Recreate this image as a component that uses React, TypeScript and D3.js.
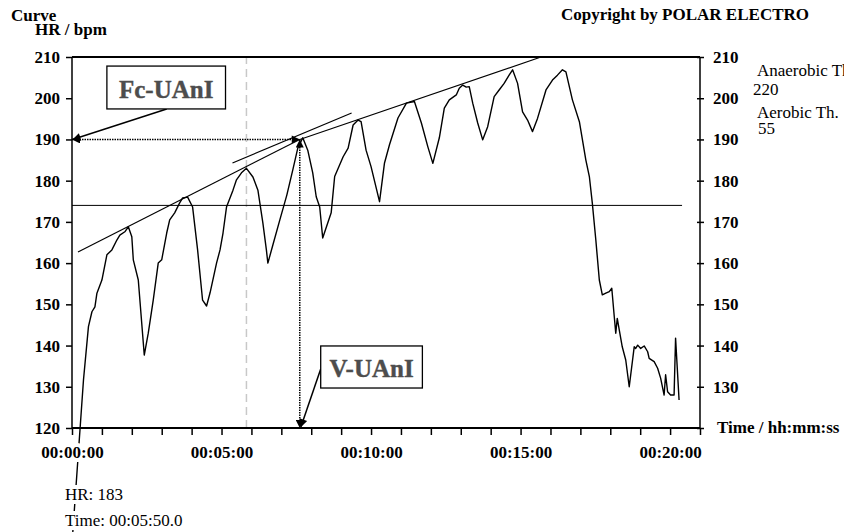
import React, { useEffect, useRef } from 'react';
import * as d3 from 'd3';

// elapsed time in seconds and heart rate in bpm
const seconds = [0, 23, 33, 40, 46, 50, 60, 70, 80, 90,
  96, 106, 113, 120, 123, 133, 145, 153, 163, 173,
  180, 190, 196, 206, 216, 222, 232, 242, 252, 262,
  270, 277, 290, 297, 303, 310, 323, 330, 340, 350,
  363, 373, 383, 390, 393, 403, 417, 431, 443, 453,
  463, 473, 483, 490, 497, 503, 520, 527, 544, 554,
  564, 574, 580, 590, 600, 617, 627, 637, 654, 671,
  687, 701, 714, 724, 737, 747, 757, 771, 777, 784,
  791, 797, 804, 814, 824, 834, 847, 857, 867, 877,
  884, 894, 904, 914, 924, 934, 951, 964, 974, 984,
  991, 1004, 1018, 1031, 1038, 1044, 1051, 1058, 1064, 1071,
  1078, 1083, 1088, 1091, 1094, 1098, 1104, 1111, 1118, 1128,
  1131, 1135, 1141, 1148, 1155, 1158, 1168, 1175, 1181, 1188,
  1191, 1195, 1201, 1208, 1211, 1218];
const heartRate = [92, 131.6, 144.6, 148.2, 149.4, 152.7, 155.9, 162, 163.2, 165.6,
  166.8, 167.6, 168.8, 166.4, 160.8, 155.9, 137.7, 143, 151, 160,
  160.8, 167.3, 170.5, 172.2, 174.6, 175.8, 176, 173.6, 163.2, 151,
  149.6, 152.8, 160, 163.2, 167.3, 173.6, 177.7, 180.2, 181.9, 183,
  180.9, 177.7, 169.7, 163.2, 160, 164.4, 170.5, 176.5, 182.6, 187.9,
  190.4, 187.4, 181.9, 176.1, 173.6, 166.1, 172.2, 181, 185.8, 187.9,
  193.5, 194.7, 194.3, 187.4, 183.4, 174.9, 184.3, 188.7, 195.2, 198.8,
  199.2, 194, 188.2, 184.2, 190.4, 197.6, 199.6, 200.8, 202.4, 203.2,
  202.7, 202.8, 198.8, 194, 189.9, 193.1, 200.4, 202, 203.6, 205.6,
  206.9, 203.6, 196.7, 194.7, 191.9, 195.1, 202, 204.4, 205.6, 206.9,
  206.4, 199.6, 194.3, 185, 181, 174.5, 165.6, 155.9, 152.3, 152.7,
  153.1, 153.9, 147, 143, 146.6, 143.8, 139.7, 136.5, 130, 139.7,
  139.3, 140.1, 139.3, 139.9, 138.5, 136.9, 136.1, 134.5, 132.1, 128,
  132.9, 128.8, 128, 128, 141.8, 126.8];

const yTicks = [120, 130, 140, 150, 160, 170, 180, 190, 200, 210];
const xMinorTicks = d3.range(0, 1261, 60);
const xLabelTicks = [0, 300, 600, 900, 1200];
const xTickLabels = ['00:00:00', '00:05:00', '00:10:00', '00:15:00', '00:20:00'];

const thresholdHr = 174;
const thresholdEnd = 1224;
const cursorTime = 350;
const cursorHr = 183;
const uaniTime = 457;
const uaniHr = 190;

// tangent lines drawn through the peaks
const tangents = [
  [[12, 162.7], [uaniTime, uaniHr]],
  [[uaniTime, uaniHr], [941, 210]],
  [[322, 184.3], [561, 196.4]],
];

const labelBoxes = [
  { text: 'Fc-UAnI', t0: 70, t1: 308, hrTop: 207.8, hrBottom: 197.4, hrText: 200,
    from: [190, 197.4], to: [1, 190] },
  { text: 'V-UAnI', t0: 499, t1: 703, hrTop: 139.9, hrBottom: 129.7, hrText: 132.4,
    from: [499, 134.3], to: [459, 120.2] },
];

const sideLabels = ['Anaerobic Th.', '220', 'Aerobic Th.', '55'];

const serif = '"Liberation Serif", "Times New Roman", serif';

const HeartRateChart = () => {
  const chart = useRef(null);
  const width = 844;
  const height = 532;
  const margin = { top: 57, right: 144, bottom: 104, left: 72 };

  const x = d3.scaleLinear()
    .domain([0, 1260])
    .range([margin.left, width - margin.right]);
  const y = d3.scaleLinear()
    .domain([120, 210])
    .range([height - margin.bottom, margin.top]);

  const draw = () => {
    const svg = d3.select(chart.current);
    svg.selectAll('*').remove();
    svg.attr('font-family', serif);

    const defs = svg.append('defs');
    defs.append('marker')
      .attr('id', 'tip')
      .attr('viewBox', '0 0 10 10')
      .attr('refX', 10)
      .attr('refY', 5)
      .attr('markerWidth', 11)
      .attr('markerHeight', 8)
      .attr('markerUnits', 'userSpaceOnUse')
      .attr('orient', 'auto-start-reverse')
      .append('path')
      .attr('d', 'M0,0L10,5L0,10Z')
      .attr('fill', '#000');

    const [x0, x1] = x.range();
    const [yb, yt] = y.range();

    // cursor
    svg.append('line')
      .attr('x1', x(cursorTime)).attr('x2', x(cursorTime))
      .attr('y1', y(120)).attr('y2', y(210))
      .attr('stroke', '#c8c8c8')
      .attr('stroke-width', 1.5)
      .attr('stroke-dasharray', '8,5');

    // threshold
    svg.append('line')
      .attr('x1', x(0)).attr('x2', x(thresholdEnd))
      .attr('y1', y(thresholdHr)).attr('y2', y(thresholdHr))
      .attr('stroke', '#000')
      .attr('stroke-width', 1);

    svg.append('g')
      .selectAll('line')
      .data(tangents)
      .join('line')
      .attr('x1', d => x(d[0][0])).attr('y1', d => y(d[0][1]))
      .attr('x2', d => x(d[1][0])).attr('y2', d => y(d[1][1]))
      .attr('stroke', '#000')
      .attr('stroke-width', 1.2);

    const line = d3.line()
      .x((d, i) => x(seconds[i]))
      .y(d => y(d));
    svg.append('path')
      .attr('d', line(heartRate))
      .attr('fill', 'none')
      .attr('stroke', '#000')
      .attr('stroke-width', 1.4)
      .attr('stroke-linejoin', 'round');

    // frame
    svg.append('line')
      .attr('x1', x0).attr('x2', x1).attr('y1', yt).attr('y2', yt)
      .attr('stroke', '#000').attr('stroke-width', 2.2);
    svg.append('line')
      .attr('x1', x0).attr('x2', x1).attr('y1', yb).attr('y2', yb)
      .attr('stroke', '#000').attr('stroke-width', 2.2);
    svg.append('line')
      .attr('x1', x0).attr('x2', x0).attr('y1', yt).attr('y2', yb)
      .attr('stroke', '#000').attr('stroke-width', 1.5);
    svg.append('line')
      .attr('x1', x1).attr('x2', x1).attr('y1', yt).attr('y2', yb)
      .attr('stroke', '#000').attr('stroke-width', 1.5);

    const styleAxis = g => g
      .attr('font-family', serif)
      .attr('font-size', 17)
      .attr('font-weight', 'bold')
      .call(g => g.select('.domain').remove())
      .call(g => g.selectAll('.tick line').attr('stroke-width', 1.5))
      .call(g => g.selectAll('.tick text')
        .attr('fill', '#000')
        .attr('stroke', '#fff')
        .attr('stroke-width', 8)
        .attr('paint-order', 'stroke'));

    svg.append('g')
      .attr('transform', `translate(${x0},0)`)
      .call(d3.axisLeft(y).tickValues(yTicks).tickSize(6).tickPadding(6))
      .call(styleAxis);

    svg.append('g')
      .attr('transform', `translate(${x1},0)`)
      .call(d3.axisRight(y)
        .tickValues(yTicks)
        .tickSize(4)
        .tickPadding(9)
        .tickFormat(d => (d === yTicks[0] ? '' : String(d))))
      .call(styleAxis)
      .call(g => g.selectAll('.tick line').attr('x1', -3));

    svg.append('g')
      .attr('transform', `translate(0,${yb})`)
      .call(d3.axisBottom(x)
        .tickValues(xMinorTicks)
        .tickSize(7)
        .tickPadding(11)
        .tickFormat(d => {
          const i = xLabelTicks.indexOf(d);
          return i >= 0 ? xTickLabels[i] : '';
        }))
      .call(styleAxis);

    // dotted UAnI guides
    svg.append('line')
      .attr('x1', x(0)).attr('y1', y(uaniHr))
      .attr('x2', x(uaniTime)).attr('y2', y(uaniHr))
      .attr('stroke', '#000')
      .attr('stroke-width', 1.5)
      .attr('stroke-dasharray', '1.5,1')
      .attr('marker-start', 'url(#tip)')
      .attr('marker-end', 'url(#tip)');
    svg.append('line')
      .attr('x1', x(uaniTime)).attr('y1', y(uaniHr))
      .attr('x2', x(uaniTime)).attr('y2', y(120))
      .attr('stroke', '#000')
      .attr('stroke-width', 1.5)
      .attr('stroke-dasharray', '1.5,1')
      .attr('marker-start', 'url(#tip)')
      .attr('marker-end', 'url(#tip)');

    const boxes = svg.append('g')
      .selectAll('g')
      .data(labelBoxes)
      .join('g');
    boxes.append('line')
      .attr('x1', d => x(d.from[0])).attr('y1', d => y(d.from[1]))
      .attr('x2', d => x(d.to[0])).attr('y2', d => y(d.to[1]))
      .attr('stroke', '#000')
      .attr('stroke-width', 1.5)
      .attr('marker-end', 'url(#tip)');
    boxes.append('rect')
      .attr('x', d => x(d.t0))
      .attr('y', d => y(d.hrTop))
      .attr('width', d => x(d.t1) - x(d.t0))
      .attr('height', d => y(d.hrBottom) - y(d.hrTop))
      .attr('fill', '#fff')
      .attr('stroke', '#000')
      .attr('stroke-width', 1.3);
    boxes.append('text')
      .attr('x', d => (x(d.t0) + x(d.t1)) / 2)
      .attr('y', d => y(d.hrText))
      .attr('text-anchor', 'middle')
      .attr('font-size', 25)
      .attr('font-weight', 'bold')
      .attr('fill', '#4d4d4d')
      .attr('stroke', '#4d4d4d')
      .attr('stroke-width', 0.4)
      .text(d => d.text);

    const bold = (t, px, py, anchor = 'start') => svg.append('text')
      .attr('x', px).attr('y', py)
      .attr('text-anchor', anchor)
      .attr('font-size', 17)
      .attr('font-weight', 'bold')
      .text(t);

    bold('Curve', 11, 21);
    bold('HR / bpm', 35, 35);
    bold('Copyright by POLAR ELECTRO', 809, 20, 'end');
    bold('Time / hh:mm:ss', x1 + 17, yb + 5);

    svg.append('g')
      .selectAll('text')
      .data(sideLabels)
      .join('text')
      .attr('x', (d, i) => x1 + [57, 53, 57, 58][i])
      .attr('y', (d, i) => yt + [19, 38, 61, 77][i])
      .attr('font-size', 17)
      .text(d => d);

    const mm = d3.format('02d');
    const cursorLabels = [
      `HR: ${cursorHr}`,
      `Time: 00:${mm(Math.floor(cursorTime / 60))}:${mm(cursorTime % 60)}.0`,
    ];
    svg.append('g')
      .selectAll('text')
      .data(cursorLabels)
      .join('text')
      .attr('x', 65)
      .attr('y', (d, i) => yb + 72 + i * 26)
      .attr('font-size', 17)
      .attr('stroke', '#fff')
      .attr('stroke-width', 8)
      .attr('paint-order', 'stroke')
      .text(d => d);
  };

  useEffect(() => {
    draw();
  }, []);

  return (
    <svg
      ref={chart}
      width={width}
      height={height}
      style={{ position: 'absolute', left: 0, top: 0, background: '#fff' }}
    />
  );
};

export default function App() {
  return <HeartRateChart />;
}
